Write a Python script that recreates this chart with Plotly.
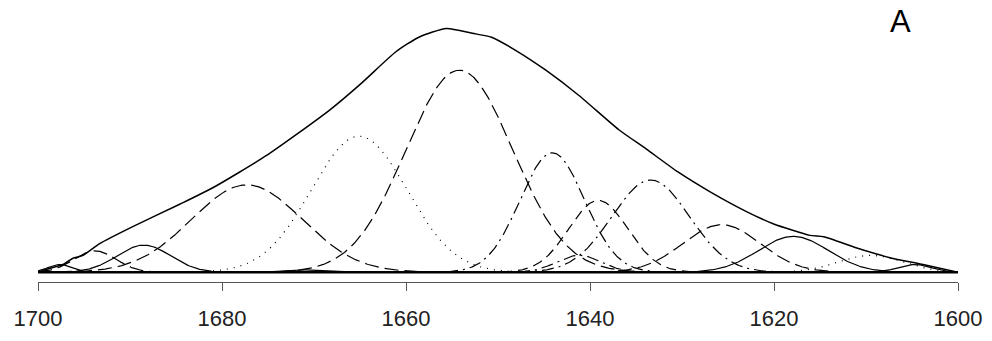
import numpy as np
import plotly.graph_objects as go

# Measured amide I envelope (wavenumber, relative absorbance)
envelope_wn = [1700.0, 1699.5, 1697.3, 1696.2, 1695.1, 1693.3, 1689.7, 1684.6, 1681.0,
               1675.2, 1668.3, 1664.8, 1661.1, 1658.6, 1655.6, 1652.8, 1650.7, 1648.0,
               1644.8, 1641.2, 1636.9, 1633.9, 1630.4, 1626.8, 1623.1, 1620.1, 1616.1,
               1614.6, 1611.0, 1607.4, 1603.8, 1600.0]
envelope_abs = [0.000, 0.008, 0.032, 0.058, 0.070, 0.118, 0.188, 0.280, 0.348,
                0.480, 0.668, 0.780, 0.908, 0.968, 1.004, 0.984, 0.968, 0.912,
                0.832, 0.728, 0.588, 0.508, 0.412, 0.328, 0.252, 0.200, 0.152,
                0.146, 0.100, 0.060, 0.032, 0.000]

# Fitted Gaussian component bands
band_center = [1697.6, 1693.8, 1688.5, 1677.3, 1671.5, 1665.1, 1654.2, 1644.1,
               1641.2, 1639.1, 1633.4, 1625.7, 1617.9, 1609.5, 1604.7]
band_height = [0.032, 0.088, 0.112, 0.360, 0.010, 0.560, 0.832, 0.492,
               0.070, 0.296, 0.380, 0.196, 0.148, 0.070, 0.032]
band_sigma = [1.3, 2.3, 2.9, 6.0, 2.0, 5.2, 5.8, 3.5,
              2.4, 3.2, 4.2, 4.2, 3.8, 3.5, 1.8]
band_dash = ["solid", "14px,6px", "solid", "14px,6px", "solid", "1px,6px",
             "14px,6px", "12px,5px,2px,5px", "12px,5px,2px,5px", "10px,6px",
             "12px,5px,2px,5px", "14px,6px", "solid", "1px,6px", "solid"]

tick_vals = [1700, 1680, 1660, 1640, 1620, 1600]

wn = np.linspace(1700, 1600, 1001)

fig = go.Figure()

for c, h, s, d in zip(band_center, band_height, band_sigma, band_dash):
    y = h * np.exp(-0.5 * ((wn - c) / s) ** 2)
    fig.add_trace(go.Scatter(x=wn, y=y, mode="lines",
                             line=dict(color="black", width=1.2, dash=d),
                             hoverinfo="skip", showlegend=False))

# baseline
fig.add_trace(go.Scatter(x=[1700, 1600], y=[0, 0], mode="lines",
                         line=dict(color="black", width=2.2),
                         hoverinfo="skip", showlegend=False))

# envelope
fig.add_trace(go.Scatter(x=envelope_wn, y=envelope_abs, mode="lines",
                         line=dict(color="black", width=1.5, shape="spline", smoothing=0.6),
                         hoverinfo="skip", showlegend=False))

# panel letter
fig.add_annotation(text="A", x=0.938, y=0.957, xref="paper", yref="paper",
                   showarrow=False, xanchor="center", yanchor="middle",
                   font=dict(size=31, color="black", family="Liberation Sans, Arial"))

fig.update_layout(
    width=992, height=341,
    margin=dict(l=38, r=32, t=10, b=51),
    paper_bgcolor="white", plot_bgcolor="white",
    xaxis=dict(range=[1700, 1600], tickvals=tick_vals,
               showgrid=False, zeroline=False,
               showline=True, linecolor="#555", linewidth=1,
               ticks="outside", ticklen=8, tickcolor="#555", tickwidth=1,
               ticklabelstandoff=9,
               tickfont=dict(size=22, color="#222", family="Liberation Sans, Arial")),
    yaxis=dict(range=[-0.04, 1.08], visible=False, showgrid=False, zeroline=False),
)

fig.write_html("out.html")
